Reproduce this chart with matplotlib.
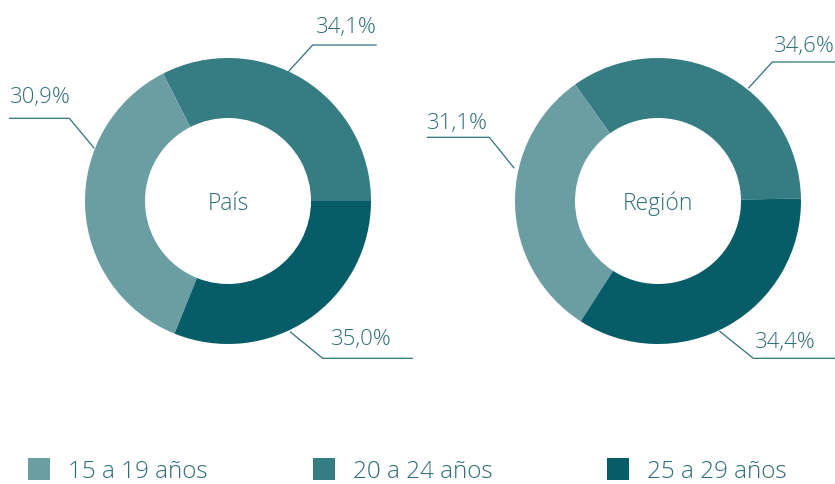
import matplotlib
matplotlib.use("Agg")
import matplotlib.pyplot as plt
from matplotlib.patches import Rectangle

# ---------------- data ----------------
categories = ["15 a 19 años", "20 a 24 años", "25 a 29 años"]
chart_titles = ["País", "Región"]
# wedge shares as drawn in the picture (order: 15-19, 20-24, 25-29)
pais_shares = [36.4, 32.5, 31.1]
region_shares = [31.1, 34.6, 34.4]
# printed labels
pais_labels = ["30,9%", "34,1%", "35,0%"]
region_labels = ["31,1%", "34,6%", "34,4%"]

colors = ["#6a9ea3", "#367c83", "#075d67"]
text_color = "#2e6e76"
line_color = "#2f7178"

W, H = 835, 484
FONT = "Open Sans"

fig = plt.figure(figsize=(W / 100, H / 100), dpi=100)
ax = fig.add_axes([0, 0, 1, 1])


def P(x, y):
    return (x, H - y)


centers = [P(228, 201), P(658, 201)]
R_OUT, WIDTH = 143, 60
# drawing order counter-clockwise from 3 o'clock: 20-24, 15-19, 25-29
order = [1, 0, 2]
start_angles = [0, 1]

# label layout: (anchor, elbow, end, text_xy, ha) in pixel coords
layouts = [
    [  # País
        ((94.3, 148.3), (69.3, 118.3), (9, 118.3), (10, 103), "left"),
        ((288.3, 71.7), (312.7, 45), (376.7, 45), (376.7, 32.5), "right"),
        ((290, 331.7), (322.7, 358.3), (413, 358.3), (330.5, 345), "left"),
    ],
    [  # Región
        ((514.3, 168.3), (489.3, 137.3), (426.7, 137.3), (427, 129), "left"),
        ((748.3, 88.3), (772.3, 62), (835, 62), (834.5, 52.3), "right"),
        ((719.3, 331), (753.3, 358.3), (835, 358.3), (755, 348.3), "left"),
    ],
]

for k, (shares, labels) in enumerate([(pais_shares, pais_labels),
                                      (region_shares, region_labels)]):
    vals = [shares[i] for i in order]
    cols = [colors[i] for i in order]
    ax.pie(vals, colors=cols, radius=R_OUT, center=centers[k],
           startangle=start_angles[k], counterclock=True,
           wedgeprops=dict(width=WIDTH, linewidth=0))
    cx, cy = centers[k]
    ax.text(cx, H - 210, chart_titles[k], ha="center", va="baseline",
            fontsize=16.5, color=text_color, family=FONT, fontweight="light")
    for i, lab in enumerate(labels):
        a, e, end, txy, ha = layouts[k][i]
        xs = [a[0], e[0], end[0]]
        ys = [H - a[1], H - e[1], H - end[1]]
        ax.plot(xs, ys, color=line_color, lw=0.9, solid_capstyle="butt")
        ax.text(txy[0], H - txy[1], lab, ha=ha, va="baseline",
                fontsize=16, color=text_color, family=FONT, fontweight="light")

# legend
sq_x = [28, 312.6, 607]
for i, cat in enumerate(categories):
    ax.add_patch(Rectangle((sq_x[i], H - 480), 22, 22, color=colors[i], lw=0))
    ax.text(sq_x[i] + 40, H - 477.5, cat, ha="left", va="baseline",
            fontsize=17.5, color=text_color, family=FONT, fontweight="light")

ax.set_xlim(0, W)
ax.set_ylim(0, H)
ax.set_aspect("equal")
ax.axis("off")

fig.savefig("out.png", dpi=100)
